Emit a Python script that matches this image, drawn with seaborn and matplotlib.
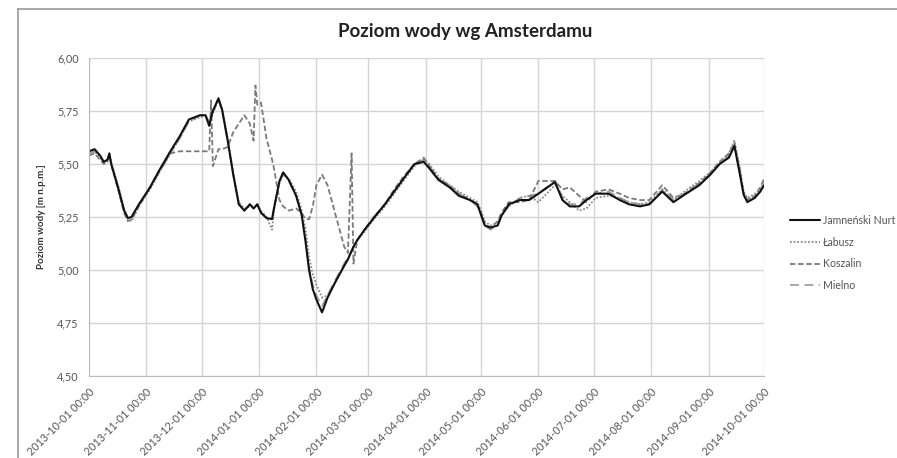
import numpy as np
import pandas as pd
import matplotlib
matplotlib.use("Agg")
import matplotlib.pyplot as plt
import matplotlib.dates as mdates
from matplotlib.lines import Line2D
import seaborn as sns

# Dane (poziom wody [m n.p.m.])
daty = ["2013-10-01", "2013-10-04", "2013-10-07", "2013-10-09", "2013-10-11", "2013-10-12",
        "2013-10-13", "2013-10-17", "2013-10-20", "2013-10-22", "2013-10-24", "2013-10-28",
        "2013-11-03", "2013-11-08", "2013-11-14", "2013-11-19", "2013-11-24", "2013-11-30",
        "2013-12-03", "2013-12-05", "2013-12-06", "2013-12-07", "2013-12-10", "2013-12-12",
        "2013-12-15", "2013-12-18", "2013-12-21", "2013-12-24", "2013-12-27", "2013-12-29",
        "2013-12-30", "2013-12-31", "2014-01-02", "2014-01-05", "2014-01-08", "2014-01-09",
        "2014-01-12", "2014-01-14", "2014-01-17", "2014-01-21", "2014-01-24", "2014-01-26",
        "2014-01-28", "2014-01-30", "2014-02-01", "2014-02-04", "2014-02-07", "2014-02-11",
        "2014-02-16", "2014-02-18", "2014-02-20", "2014-02-21", "2014-02-23", "2014-02-27",
        "2014-03-04", "2014-03-10", "2014-03-15", "2014-03-20", "2014-03-26", "2014-03-31",
        "2014-04-03", "2014-04-08", "2014-04-14", "2014-04-19", "2014-04-25", "2014-04-29",
        "2014-05-01", "2014-05-03", "2014-05-06", "2014-05-10", "2014-05-12", "2014-05-16",
        "2014-05-22", "2014-05-27", "2014-06-01", "2014-06-10", "2014-06-14", "2014-06-18",
        "2014-06-23", "2014-06-27", "2014-07-02", "2014-07-09", "2014-07-15", "2014-07-20",
        "2014-07-26", "2014-07-31", "2014-08-07", "2014-08-13", "2014-08-19", "2014-08-27",
        "2014-09-02", "2014-09-07", "2014-09-12", "2014-09-15", "2014-09-18", "2014-09-20",
        "2014-09-22", "2014-09-26", "2014-09-29", "2014-10-01"]

jamnenski = [5.56, 5.57, 5.54, 5.51, 5.52, 5.55, 5.50, 5.38, 5.28, 5.245, 5.25, 5.31,
             5.39, 5.47, 5.56, 5.63, 5.71, 5.73, 5.73, 5.68, 5.72, 5.75, 5.81, 5.755,
             5.61, 5.45, 5.31, 5.28, 5.31, 5.29, 5.30, 5.31, 5.27, 5.245, 5.24, 5.29,
             5.42, 5.46, 5.425, 5.35, 5.26, 5.14, 5.00, 4.91, 4.86, 4.80, 4.87, 4.94,
             5.02, 5.05, 5.09, 5.11, 5.14, 5.19, 5.245, 5.31, 5.37, 5.43, 5.50, 5.51,
             5.48, 5.425, 5.39, 5.35, 5.33, 5.31, 5.26, 5.21, 5.20, 5.21, 5.255, 5.31,
             5.33, 5.33, 5.36, 5.415, 5.33, 5.30, 5.30, 5.33, 5.36, 5.36, 5.33, 5.31,
             5.30, 5.31, 5.37, 5.32, 5.355, 5.40, 5.45, 5.50, 5.53, 5.585, 5.45, 5.355,
             5.32, 5.34, 5.37, 5.40]

labusz = [5.55, 5.56, 5.53, 5.50, 5.51, 5.54, 5.51, 5.39, 5.29, 5.24, 5.23, 5.30,
          5.38, 5.46, 5.55, 5.62, 5.70, 5.72, 5.73, 5.69, 5.71, 5.74, 5.80, 5.76,
          5.62, 5.46, 5.32, 5.29, 5.30, 5.30, 5.30, 5.31, 5.28, 5.25, 5.19, 5.28,
          5.41, 5.45, 5.43, 5.37, 5.28, 5.20, 5.06, 4.98, 4.93, 4.87, 4.88, 4.94,
          5.02, 5.05, 5.09, 5.10, 5.14, 5.18, 5.24, 5.30, 5.36, 5.42, 5.49, 5.52,
          5.50, 5.44, 5.40, 5.37, 5.34, 5.32, 5.28, 5.23, 5.21, 5.22, 5.26, 5.30,
          5.34, 5.35, 5.32, 5.40, 5.35, 5.32, 5.28, 5.29, 5.34, 5.35, 5.34, 5.32,
          5.31, 5.32, 5.38, 5.33, 5.37, 5.42, 5.46, 5.51, 5.55, 5.61, 5.48, 5.37,
          5.34, 5.36, 5.38, 5.42]

koszalin = [5.54, 5.55, 5.52, 5.50, 5.52, 5.54, 5.50, 5.37, 5.27, 5.23, 5.24, 5.30,
            5.39, 5.47, 5.55, 5.56, 5.56, 5.56, 5.56, 5.56, 5.80, 5.49, 5.57, 5.57,
            5.58, 5.65, 5.69, 5.73, 5.69, 5.61, 5.87, 5.78, 5.79, 5.62, 5.52, 5.48,
            5.33, 5.30, 5.28, 5.29, 5.27, 5.24, 5.24, 5.30, 5.40, 5.45, 5.40, 5.27,
            5.11, 5.08, 5.55, 5.03, 5.14, 5.19, 5.25, 5.31, 5.38, 5.44, 5.50, 5.53,
            5.49, 5.43, 5.40, 5.36, 5.33, 5.31, 5.27, 5.22, 5.20, 5.23, 5.27, 5.32,
            5.32, 5.33, 5.42, 5.42, 5.38, 5.39, 5.35, 5.32, 5.37, 5.38, 5.36, 5.34,
            5.33, 5.33, 5.40, 5.34, 5.36, 5.41, 5.46, 5.51, 5.55, 5.60, 5.47, 5.36,
            5.33, 5.35, 5.39, 5.43]

mielno = [5.55, 5.56, 5.53, 5.51, 5.52, 5.55, 5.50, 5.38, 5.28, 5.25, 5.25, 5.31,
          5.39, 5.46, 5.55, 5.62, 5.70, 5.73, 5.73, 5.70, 5.72, 5.75, 5.80, 5.75,
          5.61, 5.45, 5.31, 5.28, 5.31, 5.29, 5.30, 5.31, 5.27, 5.245, 5.24, 5.29,
          5.42, 5.46, 5.42, 5.35, 5.26, 5.15, 5.01, 4.93, 4.88, 4.83, 4.88, 4.95,
          5.03, 5.06, 5.09, 5.11, 5.14, 5.19, 5.25, 5.31, 5.37, 5.43, 5.50, 5.52,
          5.49, 5.43, 5.39, 5.36, 5.33, 5.30, 5.26, 5.21, 5.19, 5.21, 5.26, 5.30,
          5.34, 5.35, 5.36, 5.42, 5.34, 5.31, 5.31, 5.34, 5.36, 5.37, 5.34, 5.32,
          5.31, 5.31, 5.38, 5.33, 5.36, 5.41, 5.45, 5.50, 5.54, 5.59, 5.46, 5.35,
          5.33, 5.35, 5.37, 5.41]

serie = ["Jamneński Nurt", "Łabusz", "Koszalin", "Mielno"]
y_ticks = [4.50, 4.75, 5.00, 5.25, 5.50, 5.75, 6.00]

df = pd.DataFrame({"data": pd.to_datetime(daty),
                   "Jamneński Nurt": jamnenski, "Łabusz": labusz,
                   "Koszalin": koszalin, "Mielno": mielno})

sns.set_style("white")
plt.rcParams["font.family"] = ["Lato", "DejaVu Sans"]

fig = plt.figure(figsize=(8.97, 4.58), dpi=100)
ax = fig.add_axes([89/897, 1 - 376/458, (764 - 89)/897, (376 - 58)/458])

# ramka wykresu (jak w Excelu)
fig.add_artist(Line2D([18/897, 18/897], [0, 1 - 9/458], color="#9a9a9a", lw=1.2))
fig.add_artist(Line2D([18/897, 1], [1 - 9/458, 1 - 9/458], color="#9a9a9a", lw=1.2))

style = {
    "Jamneński Nurt": dict(color="#111111", lw=1.5, ls="-"),
    "Łabusz": dict(color="#8a8a8a", lw=1.3, ls=(0, (1, 1))),
    "Koszalin": dict(color="#7a7a7a", lw=1.3, ls=(0, (3, 1.5))),
    "Mielno": dict(color="#a0a0a0", lw=1.3, ls=(0, (5, 3))),
}

for s in ["Mielno", "Koszalin", "Łabusz", "Jamneński Nurt"]:
    st = style[s]
    sns.lineplot(data=df, x="data", y=s, ax=ax, color=st["color"], lw=st["lw"],
                 linestyle=st["ls"], label=s, legend=False)

ax.set_xlim(pd.Timestamp("2013-10-01"), pd.Timestamp("2014-10-01"))
ax.set_ylim(4.5, 6.0)
ax.set_yticks(y_ticks)
ax.set_yticklabels([f"{v:.2f}".replace(".", ",") for v in y_ticks])
ax.xaxis.set_major_locator(mdates.MonthLocator())
ax.xaxis.set_major_formatter(mdates.DateFormatter("%Y-%m-%d %H:%M"))
plt.setp(ax.get_xticklabels(), rotation=45, ha="right", rotation_mode="anchor")

ax.grid(True, color="#d4d4d4", lw=1.0)
ax.set_axisbelow(True)
for side in ["top", "right"]:
    ax.spines[side].set_visible(False)
for side in ["left", "bottom"]:
    ax.spines[side].set_color("#bdbdbd")
ax.tick_params(axis="both", colors="#bdbdbd", labelcolor="#555555", labelsize=7.8,
               length=4, width=1, direction="out")

ax.set_xlabel("")
ax.set_ylabel("Poziom wody [m n.p.m.]", fontsize=7, fontweight="bold", color="#333333",
              labelpad=8)
fig.text(465/897, 1 - 32/458, "Poziom wody wg Amsterdamu", ha="center", va="center",
         fontsize=13.5, fontweight="bold", color="#222222")

handles = [Line2D([], [], color=style[s]["color"], lw=style[s]["lw"], ls=style[s]["ls"])
           for s in serie]
fig.legend(handles, serie, loc="center left", bbox_to_anchor=(790/897, 1 - 253/458),
           frameon=False, fontsize=7.6, handlelength=2.8, handletextpad=0.3,
           labelspacing=1.02, borderpad=0, borderaxespad=0, labelcolor="#555555")

fig.savefig("out.png", dpi=100)
